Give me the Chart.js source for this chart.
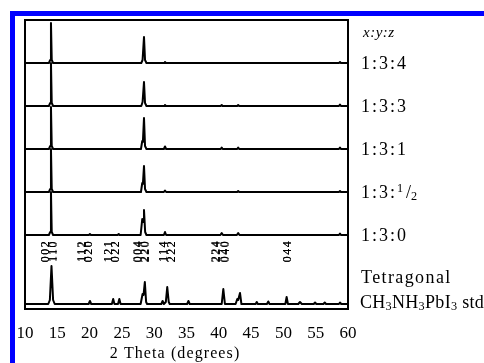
<!DOCTYPE html>
<html>
<head>
<meta charset="utf-8">
<script src="https://cdn.jsdelivr.net/npm/chart.js@4.4.1/dist/chart.umd.min.js"></script>
<style>
  html, body { margin: 0; padding: 0; background: #fff; }
</style>
</head>
<body>
<canvas id="xrdChart" width="484" height="363"></canvas>
<script>
// sample names (x:y:z ratios), top to bottom, and the baseline each trace sits on
const sampleNames = ['1:3:4', '1:3:3', '1:3:1', '1:3:1/2', '1:3:0'];
const sampleOffsets = [246, 203, 160, 117, 74];
const stdOffset = 5;
const stdLabel = ['Tetragonal', 'CH3NH3PbI3 std'];

// x axis ticks (2 theta, degrees)
const xTicks = [10, 15, 20, 25, 30, 35, 40, 45, 50, 55, 60];

// [2theta, intensity above baseline]
const s134 = [[10, 0], [13.7, 0], [13.9, 3], [14.02, 40], [14.14, 3], [14.35, 0],
  [28.0, 0], [28.2, 3], [28.42, 26], [28.58, 3], [28.8, 0],
  [31.55, 0], [31.67, 1], [31.8, 0], [58.6, 0], [58.76, 1], [58.9, 0], [60, 0]];
const s133 = [[10, 0], [13.7, 0], [13.9, 3], [14.02, 43], [14.14, 3], [14.35, 0],
  [28.0, 0], [28.2, 4], [28.42, 24], [28.58, 3], [28.8, 0],
  [31.55, 0], [31.67, 1], [31.8, 0], [40.3, 0], [40.45, 1], [40.6, 0],
  [42.85, 0], [43.0, 1], [43.15, 0], [58.6, 0], [58.76, 1.5], [58.9, 0], [60, 0]];
const s131 = [[10, 0], [13.7, 0], [13.9, 3], [14.02, 42], [14.14, 3], [14.35, 0],
  [27.95, 0], [28.15, 8], [28.25, 7], [28.42, 31], [28.58, 3], [28.8, 0],
  [31.5, 0], [31.67, 2.5], [31.85, 0], [40.3, 0], [40.45, 1.5], [40.6, 0],
  [42.85, 0], [43.0, 1.5], [43.15, 0], [58.6, 0], [58.76, 1.5], [58.9, 0], [60, 0]];
const s1312 = [[10, 0], [13.7, 0], [13.9, 3], [14.02, 43], [14.14, 3], [14.35, 0],
  [27.95, 0], [28.15, 9], [28.25, 8], [28.42, 26], [28.58, 3], [28.8, 0],
  [31.5, 0], [31.67, 1.5], [31.85, 0], [42.85, 0], [43.0, 1], [43.15, 0],
  [58.6, 0], [58.76, 1], [58.9, 0], [60, 0]];
const s130 = [[10, 0], [13.7, 0], [13.9, 3], [14.02, 43], [14.14, 3], [14.35, 0],
  [19.9, 0], [20.05, 1], [20.2, 0], [24.35, 0], [24.5, 1], [24.65, 0],
  [27.9, 0], [28.15, 16], [28.27, 13], [28.42, 25], [28.6, 3], [28.8, 0],
  [31.5, 0], [31.67, 3], [31.85, 0], [40.25, 0], [40.45, 2], [40.65, 0],
  [42.8, 0], [43.0, 2], [43.2, 0], [58.6, 0], [58.76, 1.5], [58.9, 0], [60, 0]];
const stdPattern = [[10, 0], [13.6, 0], [13.85, 4], [14.1, 38], [14.35, 4], [14.6, 0],
  [19.85, 0], [20.05, 3], [20.25, 0],
  [23.45, 0], [23.65, 5], [23.85, 0], [24.4, 0], [24.6, 5], [24.8, 0],
  [27.9, 0], [28.2, 10], [28.35, 9], [28.55, 22], [28.75, 2], [28.9, 0],
  [31.1, 0], [31.3, 3], [31.5, 0], [31.8, 2], [32.02, 17], [32.25, 2], [32.4, 0],
  [35.1, 0], [35.3, 3], [35.5, 0],
  [40.45, 0], [40.7, 15], [40.95, 0],
  [42.6, 0], [42.86, 5], [43.0, 4], [43.28, 11], [43.5, 0],
  [45.7, 0], [45.87, 2], [46.05, 0], [47.45, 0], [47.66, 2.5], [47.85, 0],
  [50.3, 0], [50.5, 7], [50.7, 0], [52.3, 0], [52.57, 2], [52.85, 0],
  [54.7, 0], [54.9, 1.5], [55.1, 0], [56.2, 0], [56.4, 1.5], [56.6, 0],
  [58.6, 0], [58.76, 1.5], [58.95, 0], [60, 0]];

const samplePatterns = [s134, s133, s131, s1312, s130];

// Miller indices of the standard, and where each rotated label sits (2theta)
const millerLabels = ['002', '110', '112', '020', '121', '022', '004', '220', '114', '222', '224', '040', '044'];
const millerPos = [13.1, 14.26, 18.78, 19.8, 22.85, 23.93, 27.41, 28.5, 31.37, 32.6, 39.49, 40.88, 50.56];

const serif = '"Liberation Serif", "Times New Roman", serif';

function toPoints(pattern, offset) {
    return pattern.map(p => ({ x: p[0], y: p[1] + offset }));
}

const datasets = samplePatterns.map((pat, i) => ({
    label: sampleNames[i],
    data: toPoints(pat, sampleOffsets[i]),
}));
datasets.push({ label: 'std', data: toPoints(stdPattern, stdOffset) });
datasets.forEach(ds => {
    ds.showLine = true;
    ds.borderColor = '#000';
    ds.borderWidth = 2;
    ds.borderJoinStyle = 'round';
    ds.pointRadius = 0;
    ds.tension = 0;
});

// draws text where a digit right after a letter becomes a subscript (CH3 -> CH₃)
function drawFormula(ctx, text, x, y, size) {
    const parts = text.split(/(?<=[A-Za-z])(\d)/);
    let cx = x;
    parts.forEach((part, i) => {
        if (!part) return;
        const isSub = i % 2 === 1;
        ctx.font = (isSub ? size * 0.68 : size) + 'px ' + serif;
        ctx.fillText(part, cx, isSub ? y + size * 0.22 : y);
        cx += ctx.measureText(part).width;
    });
}

function drawRatio(ctx, text, x, y, size) {
    ctx.font = size + 'px ' + serif;
    if (text.indexOf('/') < 0) {
        ctx.fillText(text, x, y);
        return;
    }
    // "1:3:1/2" -> 1:3: then a small raised 1, slash, lowered 2
    const frac = text.split(':').pop().split('/');
    const head = text.slice(0, text.lastIndexOf(':') + 1);
    ctx.fillText(head, x, y);
    let cx = x + ctx.measureText(head).width;
    ctx.font = (size * 0.68) + 'px ' + serif;
    ctx.fillText(frac[0], cx, y - size * 0.25);
    cx += ctx.measureText(frac[0]).width + 1;
    ctx.font = size + 'px ' + serif;
    ctx.letterSpacing = '0px';
    ctx.fillText('/', cx, y);
    cx += ctx.measureText('/').width;
    ctx.font = (size * 0.68) + 'px ' + serif;
    ctx.fillText(frac[1], cx, y + size * 0.22);
}

const decorPlugin = {
    id: 'decor',
    beforeDraw(chart) {
        const ctx = chart.ctx;
        ctx.save();
        ctx.fillStyle = '#fff';
        ctx.fillRect(0, 0, chart.width, chart.height);
        // blue frame along top and left
        ctx.fillStyle = '#0000ff';
        ctx.fillRect(10, 11, chart.width - 10, 5);
        ctx.fillRect(10, 11, 5, chart.height - 11);
        ctx.restore();
    },
    afterDraw(chart) {
        const ctx = chart.ctx;
        const area = chart.chartArea;
        const xs = chart.scales.x;
        const ys = chart.scales.y;
        ctx.save();
        ctx.strokeStyle = '#000';
        ctx.lineWidth = 2;
        ctx.strokeRect(area.left, area.top, area.right - area.left, area.bottom - area.top);

        ctx.fillStyle = '#000';
        ctx.textBaseline = 'middle';
        ctx.textAlign = 'left';
        const lx = area.right + 13;

        ctx.font = 'italic 15px ' + serif;
        ctx.letterSpacing = '0.5px';
        ctx.fillText('x:y:z', lx + 2, 33);

        sampleNames.forEach((name, i) => {
            ctx.letterSpacing = '2px';
            drawRatio(ctx, name, lx, ys.getPixelForValue(sampleOffsets[i]) + 1, 18);
        });

        ctx.letterSpacing = '1.4px';
        drawFormula(ctx, stdLabel[0], lx, 278, 18);
        ctx.letterSpacing = '0.3px';
        drawFormula(ctx, stdLabel[1], lx - 1, 303, 18);

        // rotated Miller index labels
        ctx.font = '12px ' + serif;
        ctx.letterSpacing = '1.5px';
        ctx.textAlign = 'center';
        millerLabels.forEach((lab, i) => {
            ctx.save();
            ctx.translate(xs.getPixelForValue(millerPos[i]) + 0.5, 251);
            ctx.rotate(-Math.PI / 2);
            ctx.fillText(lab, 0, 0);
            ctx.fillText(lab, 0, 0.4);
            ctx.restore();
        });

        // axis title
        ctx.font = '16px ' + serif;
        ctx.letterSpacing = '1.1px';
        ctx.fillText('2 Theta (degrees)', 175, 354);
        ctx.restore();
    }
};

new Chart(document.getElementById('xrdChart').getContext('2d'), {
    type: 'scatter',
    data: { datasets: datasets },
    options: {
        responsive: false,
        animation: false,
        layout: { padding: { left: 25, right: 136, top: 20, bottom: 0 } },
        plugins: {
            legend: { display: false },
            tooltip: { enabled: false },
        },
        scales: {
            x: {
                type: 'linear',
                min: 10,
                max: 60,
                afterBuildTicks: axis => { axis.ticks = xTicks.map(v => ({ value: v })); },
                afterFit: axis => { axis.height = 54; },
                grid: { display: false, drawTicks: false },
                border: { display: false },
                ticks: {
                    color: '#000',
                    padding: 14,
                    maxRotation: 0,
                    font: { family: serif, size: 17 },
                },
            },
            y: {
                display: false,
                min: 0,
                max: 289,
            },
        },
    },
    plugins: [decorPlugin],
});
</script>
</body>
</html>
